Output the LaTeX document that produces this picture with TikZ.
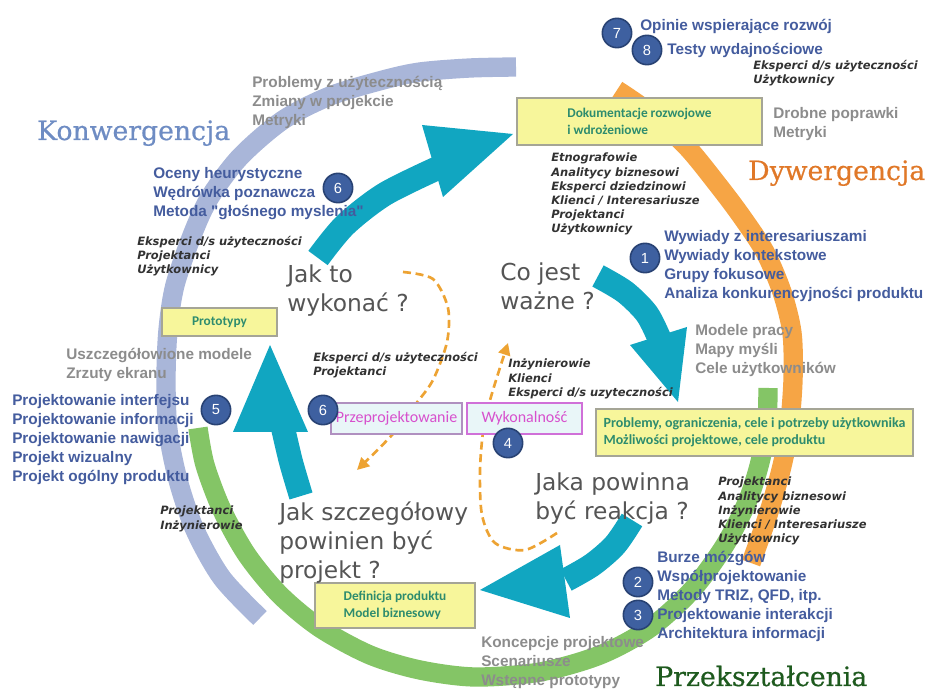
\documentclass[tikz,border=0pt]{standalone}
\usepackage{fontspec}
\setmainfont{Liberation Sans}[Ligatures=TeXOff]
\newfontfamily\qfont{DejaVu Sans}
\newfontfamily\titlefont{DejaVu Serif}[FakeBold=0.6]
\newfontfamily\boxfont{Carlito}
\usetikzlibrary{arrows.meta}

\definecolor{tealarr}{RGB}{17,166,193}
\definecolor{lavband}{RGB}{169,182,217}
\definecolor{orgband}{RGB}{246,165,69}
\definecolor{grnband}{RGB}{132,197,102}
\definecolor{boxyel}{RGB}{247,246,155}
\definecolor{boxedge}{RGB}{165,165,150}
\definecolor{boxtxt}{RGB}{46,140,110}
\definecolor{bluetxt}{RGB}{68,92,158}
\definecolor{graytxt}{RGB}{140,140,140}
\definecolor{lbltxt}{RGB}{50,50,50}
\definecolor{qtxt}{RGB}{85,85,85}
\definecolor{numfill}{RGB}{62,96,160}
\definecolor{numedge}{RGB}{40,66,115}
\definecolor{magtxt}{RGB}{215,80,205}
\definecolor{cyanbox}{RGB}{233,246,248}
\definecolor{przepedge}{RGB}{176,144,192}
\definecolor{wykedge}{RGB}{208,112,216}
\definecolor{dashorg}{RGB}{237,163,51}
\definecolor{konw}{RGB}{110,140,195}
\definecolor{dyw}{RGB}{224,120,40}
\definecolor{przek}{RGB}{30,90,30}

\begin{document}
\begin{tikzpicture}[x=0.75pt,y=-0.75pt,
  band/.style={line width=14.5pt},
  shaft/.style={line width=18pt,color=tealarr},
  arrhead/.style={fill=tealarr},
  dashline/.style={color=dashorg,line width=2pt,dash pattern=on 6pt off 3.5pt,-{Triangle[length=9pt,width=9pt]}},
  ybox/.style={draw=boxedge,line width=0.8pt,fill=boxyel,text=boxtxt,font=\boxfont\bfseries\fontsize{10}{12.5}\selectfont,align=left},
  cbox/.style={draw=#1,line width=0.9pt,fill=cyanbox,text=magtxt,font=\boxfont\fontsize{12}{14}\selectfont,minimum height=23.25pt},
  num/.style={circle,fill=numfill,draw=numedge,line width=1.2pt,minimum size=22pt,inner sep=0pt,text=white,font=\fontsize{11}{11}\selectfont},
  bluetext/.style={anchor=north west,inner sep=0pt,align=left,text=bluetxt,font=\bfseries\fontsize{11.5}{14.25}\selectfont},
  greytext/.style={bluetext,text=graytxt},
  lbl/.style={anchor=north west,inner sep=0pt,align=left,text=lbltxt,font=\qfont\bfseries\itshape\fontsize{8.6}{10.65}\selectfont},
  quest/.style={anchor=north west,inner sep=0pt,align=left,text=qtxt,font=\qfont\fontsize{17.5}{21.5}\selectfont},
  bigtitle/.style={anchor=base west,inner sep=0pt,text depth=0pt,font=\titlefont\fontsize{20}{24}\selectfont}]
  \useasboundingbox (0,0) rectangle (926,691);

  \draw[band,lavband] plot[smooth] coordinates {(516,67) (470,68) (420,72) (383,80) (330,96) (283,120) (240,157) (210,197) (193,233) (175,285) (168,330) (166,380) (168,430) (178,480) (195,530) (222,578) (260,618)};
  \draw[band,orgband] plot[smooth] coordinates {(617,90) (650,113) (687,147) (718,185) (742,217) (765,252) (782,292) (792,333) (793,380) (789,430) (781,470) (768,515) (751,563)};
  \draw[band,grnband] plot[smooth] coordinates {(768,388) (767,420) (761,458) (748,500) (725,545) (692,590) (650,628) (600,655) (540,672) (475,677) (420,670) (370,655) (320,628) (280,595) (247,555) (222,510) (205,465) (198,428)};

  \draw[shaft] plot[smooth] coordinates {(318,258) (345,225) (385,194) (440,167)};
  \fill[arrhead] (422,125) -- (513,134) -- (443,197) -- cycle;
  \draw[shaft] plot[smooth] coordinates {(598,276) (625,292) (647,314) (660,340)};
  \fill[arrhead] (630,345) -- (687,327) -- (678,402) -- cycle;
  \draw[shaft] plot[smooth] coordinates {(632,520) (615,545) (592,565) (566,580)};
  \fill[arrhead] (560,545) -- (570,618) -- (480,590) -- cycle;
  \draw[shaft] plot[smooth] coordinates {(301,496) (291,462) (283,428)};
  \fill[arrhead] (270,345) -- (233,432) -- (308,432) -- cycle;

  \coordinate (dsA) at (403,272);
  \coordinate (deA) at (357,470);
  \coordinate (dsB) at (557,533);
  \coordinate (deB) at (508,343);
  \draw[dashline] plot[smooth] coordinates {(dsA) (433,279) (448,308) (447,342) (433,380) (415,405) (392,435) (deA)};
  \draw[dashline] plot[smooth] coordinates {(dsB) (525,550) (495,543) (482,515) (480,470) (484,425) (493,390) (deB)};

  \node[ybox,minimum width=183.75pt,minimum height=35.25pt] (dok) at (639.5,121.5) {Dokumentacje rozwojowe\\i wdrożeniowe};
  \node[ybox,minimum width=86.25pt,minimum height=21pt,align=center] (proto) at (219.5,322) {Prototypy};
  \node[ybox,minimum width=237.75pt,minimum height=35.25pt,font=\boxfont\bfseries\fontsize{10.5}{12.75}\selectfont] (prob) at (754.5,432.5) {Problemy, ograniczenia, cele i potrzeby użytkownika\\Możliwości projektowe, cele produktu};
  \node[ybox,minimum width=120pt,minimum height=33.75pt] (defi) at (395,605.5) {Definicja produktu\\Model biznesowy};
  \node[cbox=przepedge,minimum width=98.25pt] (przep) at (396.5,418.5) {Przeprojektowanie};
  \node[cbox=wykedge,minimum width=86.25pt] (wyk) at (524.5,418.5) {Wykonalność};

  \node[num] (n7) at (617,33) {7};
  \node[num] (n8) at (647,50) {8};
  \node[num] (n6a) at (338,188) {6};
  \node[num] (n1) at (645,258) {1};
  \node[num] (n6b) at (323,410) {6};
  \node[num] (n4) at (508,443) {4};
  \node[num] (n5) at (216,410) {5};
  \node[num] (n2) at (638,582) {2};
  \node[num] (n3) at (638,615) {3};

  \node[bluetext] (opin) at (640,19) {Opinie wspierające rozwój};
  \node[bluetext] (testy) at (667,43) {Testy wydajnościowe};
  \node[lbl] (eksp8) at (753,60) {Eksperci d/s użyteczności\\Użytkownicy};
  \node[greytext] (drob) at (773,107) {Drobne poprawki\\Metryki};
  \node[lbl] (etno) at (551,153) {Etnografowie\\Analitycy biznesowi\\Eksperci dziedzinowi\\Klienci / Interesariusze\\Projektanci\\Użytkownicy};
  \node[bluetext] (wyw) at (664,230) {Wywiady z interesariuszami\\Wywiady kontekstowe\\Grupy fokusowe\\Analiza konkurencyjności produktu};
  \node[greytext] (model) at (695,324) {Modele pracy\\Mapy myśli\\Cele użytkowników};
  \node[lbl] (proj3) at (718,477) {Projektanci\\Analitycy biznesowi\\Inżynierowie\\Klienci / Interesariusze\\Użytkownicy};
  \node[bluetext] (burze) at (657,551) {Burze mózgów\\Współprojektowanie\\Metody TRIZ, QFD, itp.\\Projektowanie interakcji\\Architektura informacji};
  \node[greytext] (konc) at (481,636) {Koncepcje projektowe\\Scenariusze\\Wstępne prototypy};
  \node[lbl] (proj5) at (160,506) {Projektanci\\Inżynierowie};
  \node[bluetext] (pint) at (12,394) {Projektowanie interfejsu\\Projektowanie informacji\\Projektowanie nawigacji\\Projekt wizualny\\Projekt ogólny produktu};
  \node[greytext] (uszcz) at (66,348) {Uszczegółowione modele\\Zrzuty ekranu};
  \node[lbl] (eksp6) at (137,236) {Eksperci d/s użyteczności\\Projektanci\\Użytkownicy};
  \node[bluetext] (ocen) at (153,167) {Oceny heurystyczne\\Wędrówka poznawcza\\Metoda "głośnego myslenia"};
  \node[greytext] (probl) at (252,76) {Problemy z użytecznością\\Zmiany w projekcie\\Metryki};
  \node[lbl] (ekspm) at (313,352) {Eksperci d/s użyteczności\\Projektanci};
  \node[lbl] (inz) at (508,359) {Inżynierowie\\Klienci\\Eksperci d/s uzyteczności};

  \node[quest] (qjak) at (287,265) {Jak to\\wykonać ?};
  \node[quest] (qco) at (500,263) {Co jest\\ważne ?};
  \node[quest] (qjaka) at (535,473) {Jaka powinna\\być reakcja ?};
  \node[quest] (qszcz) at (279,502) {Jak szczegółowy\\powinien być\\projekt ?};

  \node[bigtitle,text=konw] (konw) at (37,140) {Konwergencja};
  \node[bigtitle,text=dyw] (dyw) at (748,180) {Dywergencja};
  \node[bigtitle,text=przek] (przek) at (655,686) {Przekształcenia};
\end{tikzpicture}
\end{document}
